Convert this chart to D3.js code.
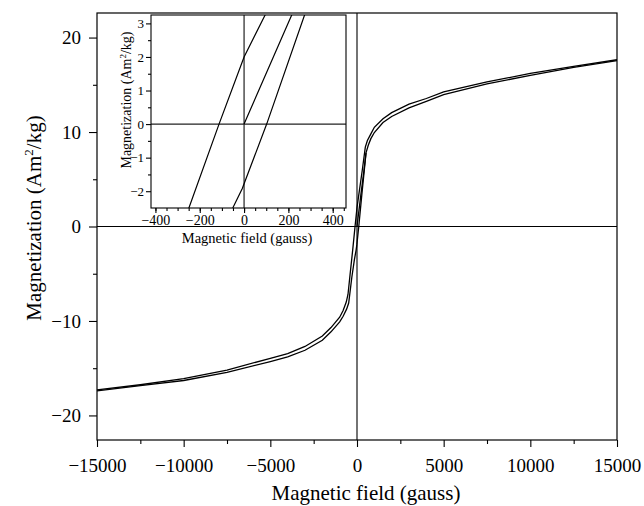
<!DOCTYPE html>
<html>
<head>
<meta charset="utf-8">
<script src="https://cdn.jsdelivr.net/npm/d3@7"></script>
<style>
  body { margin: 0; background: #fff; }
  svg { display: block; font-family: "Liberation Serif", "Times New Roman", serif; }
  .axis path { display: none; }
  .axis line { stroke: #000; stroke-width: 1.1; }
  .axis text { fill: #000; font-family: "Liberation Serif", "Times New Roman", serif; }
</style>
</head>
<body>
<div id="chart"></div>
<script>
// descending branch (+15000 -> -15000)
const descField = [15000, 12500, 10000, 7500, 5000, 4000, 3000, 2000, 1500, 1000, 800, 600, 480, 300, 95, 0, -113, -249, -400, -520, -620, -800, -1000, -1500, -2000, -3000, -4000, -5000, -7500, -10000, -12500, -15000];
const descMag   = [17.65, 16.95, 16.2, 15.3, 14.25, 13.55, 12.95, 12.05, 11.4, 10.5, 9.8, 9.1, 8.4, 5.9, 3.25, 2.0, 0, -2.5, -5.1, -7.2, -8.0, -8.9, -9.6, -10.7, -11.6, -12.7, -13.45, -13.95, -15.2, -16.1, -16.75, -17.3];

// ascending branch (-15000 -> +15000)
const ascField = [-15000, -12500, -10000, -7500, -5000, -4000, -3000, -2000, -1500, -1000, -800, -600, -480, -300, -150, -51, -8, 102, 273, 400, 520, 650, 800, 1000, 1500, 2000, 3000, 4000, 5000, 7500, 10000, 12500, 15000];
const ascMag   = [-17.4, -16.85, -16.3, -15.45, -14.3, -13.8, -13.1, -12.05, -11.15, -10.1, -9.5, -8.75, -8.1, -5.4, -3.5, -2.5, -1.92, 0, 3.25, 5.6, 7.8, 8.6, 9.3, 9.95, 11.0, 11.65, 12.55, 13.25, 13.95, 15.1, 16.0, 16.85, 17.55];

// initial magnetization curve
const virginField = [0, 215, 400, 520];
const virginMag   = [0, 3.25, 5.9, 7.8];

const mainXTicks = [-15000, -10000, -5000, 0, 5000, 10000, 15000];
const mainYTicks = [-20, -10, 0, 10, 20];
const insetXTicks = [-400, -200, 0, 200, 400];
const insetYTicks = [-2, -1, 0, 1, 2, 3];

const W = 644, H = 506;
const svg = d3.select('#chart').append('svg').attr('width', W).attr('height', H);
const fmt = d3.format('d');   // plain integers, unicode minus

const series = [
  descField.map((f, i) => [f, descMag[i]]),
  ascField.map((f, i) => [f, ascMag[i]]),
  virginField.map((f, i) => [f, virginMag[i]])
];

// ---- main plot
const m = { left: 97, right: 617, top: 13, bottom: 440 };
const x = d3.scaleLinear().domain([-15000, 15000]).range([m.left, m.right]);
const y = d3.scaleLinear().domain([-22.6, 22.6]).range([m.bottom, m.top]);

svg.append('g').attr('class', 'axis')
  .attr('transform', `translate(0,${m.bottom})`)
  .call(d3.axisBottom(x).tickValues(d3.range(-12500, 15000, 5000)).tickSize(4).tickFormat(''));
svg.append('g').attr('class', 'axis')
  .attr('transform', `translate(0,${m.bottom})`)
  .call(d3.axisBottom(x).tickValues(mainXTicks).tickSize(7).tickPadding(12).tickFormat(fmt))
  .selectAll('text').style('font-size', '19px');

svg.append('g').attr('class', 'axis')
  .attr('transform', `translate(${m.left},0)`)
  .call(d3.axisLeft(y).tickValues([-15, -5, 5, 15]).tickSize(4).tickFormat(''));
svg.append('g').attr('class', 'axis')
  .attr('transform', `translate(${m.left},0)`)
  .call(d3.axisLeft(y).tickValues(mainYTicks).tickSize(8).tickPadding(8).tickFormat(fmt))
  .selectAll('text').style('font-size', '19px');

// zero lines
svg.append('line').attr('x1', m.left).attr('x2', m.right).attr('y1', y(0)).attr('y2', y(0))
  .attr('stroke', '#000').attr('stroke-width', 1.1);
svg.append('line').attr('x1', x(0)).attr('x2', x(0)).attr('y1', m.top).attr('y2', m.bottom)
  .attr('stroke', '#000').attr('stroke-width', 1.1);

const line = d3.line().x(d => x(d[0])).y(d => y(d[1]));
svg.append('g').selectAll('path').data(series).join('path')
  .attr('d', line).attr('fill', 'none').attr('stroke', '#000').attr('stroke-width', 1.3);

svg.append('rect').attr('x', m.left).attr('y', m.top)
  .attr('width', m.right - m.left).attr('height', m.bottom - m.top)
  .attr('fill', 'none').attr('stroke', '#000').attr('stroke-width', 1.2);

svg.append('text').attr('x', 366).attr('y', 500).attr('text-anchor', 'middle')
  .style('font-size', '21px').text('Magnetic field (gauss)');

svg.append('text').attr('transform', 'translate(41,218) rotate(-90)').attr('text-anchor', 'middle')
  .style('font-size', '21px')
  .call(t => {
    t.append('tspan').text('Magnetization (Am');
    t.append('tspan').attr('dy', -8).style('font-size', '13px').text('2');
    t.append('tspan').attr('dy', 8).text('/kg)');
  });

// ---- inset
const n = { left: 151, right: 346, top: 15, bottom: 208 };
const ix = d3.scaleLinear().domain([-420, 460]).range([n.left, n.right]);
const iy = d3.scaleLinear().domain([-2.5, 3.25]).range([n.bottom, n.top]);

svg.append('rect').attr('x', n.left).attr('y', n.top)
  .attr('width', n.right - n.left).attr('height', n.bottom - n.top).attr('fill', '#fff');

svg.append('defs').append('clipPath').attr('id', 'inset-clip')
  .append('rect').attr('x', n.left).attr('y', n.top)
  .attr('width', n.right - n.left).attr('height', n.bottom - n.top);

svg.append('g').attr('class', 'axis')
  .attr('transform', `translate(0,${n.bottom})`)
  .call(d3.axisBottom(ix).tickValues(d3.range(-400, 451, 50)).tickSize(3).tickFormat(''));
svg.append('g').attr('class', 'axis')
  .attr('transform', `translate(0,${n.bottom})`)
  .call(d3.axisBottom(ix).tickValues(insetXTicks).tickSize(5).tickPadding(2).tickFormat(fmt))
  .selectAll('text').style('font-size', '14px');

svg.append('g').attr('class', 'axis')
  .attr('transform', `translate(${n.left},0)`)
  .call(d3.axisLeft(iy).tickValues([-1.5, -0.5, 0.5, 1.5, 2.5]).tickSize(3).tickFormat(''));
svg.append('g').attr('class', 'axis')
  .attr('transform', `translate(${n.left},0)`)
  .call(d3.axisLeft(iy).tickValues(insetYTicks).tickSize(5).tickPadding(2).tickFormat(fmt))
  .selectAll('text').style('font-size', '13px');

const ig = svg.append('g').attr('clip-path', 'url(#inset-clip)');
ig.append('line').attr('x1', n.left).attr('x2', n.right).attr('y1', iy(0)).attr('y2', iy(0))
  .attr('stroke', '#222').attr('stroke-width', 1.2);
ig.append('line').attr('x1', ix(0)).attr('x2', ix(0)).attr('y1', n.top).attr('y2', n.bottom)
  .attr('stroke', '#222').attr('stroke-width', 1.2);

const iline = d3.line().x(d => ix(d[0])).y(d => iy(d[1]));
ig.selectAll('path.branch').data(series).join('path').attr('class', 'branch')
  .attr('d', iline).attr('fill', 'none').attr('stroke', '#000').attr('stroke-width', 1.2);

svg.append('rect').attr('x', n.left).attr('y', n.top)
  .attr('width', n.right - n.left).attr('height', n.bottom - n.top)
  .attr('fill', 'none').attr('stroke', '#000').attr('stroke-width', 1.1);

svg.append('text').attr('x', 247).attr('y', 243).attr('text-anchor', 'middle')
  .style('font-size', '14.5px').text('Magnetic field (gauss)');

svg.append('text').attr('transform', 'translate(131,100) rotate(-90)').attr('text-anchor', 'middle')
  .style('font-size', '14px')
  .call(t => {
    t.append('tspan').text('Magnetization (Am');
    t.append('tspan').attr('dy', -5).style('font-size', '9px').text('2');
    t.append('tspan').attr('dy', 5).text('/kg)');
  });
</script>
</body>
</html>
